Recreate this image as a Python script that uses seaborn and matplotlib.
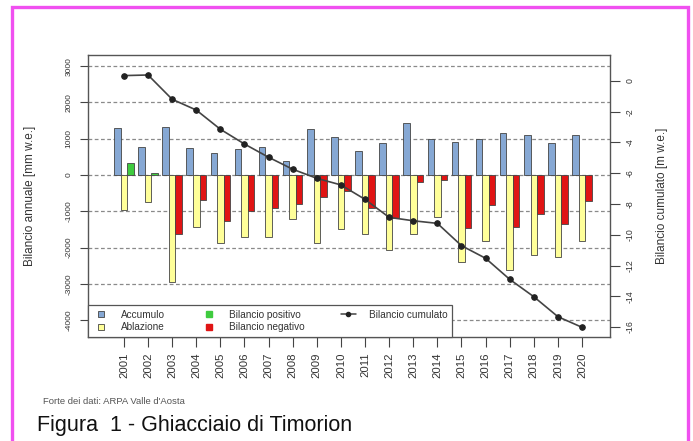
import numpy as np
import pandas as pd
import matplotlib
matplotlib.use("Agg")
import matplotlib.pyplot as plt
from matplotlib.lines import Line2D
from matplotlib.patches import Rectangle
import seaborn as sns

# Data (mm w.e. per year, cumulated in m w.e.)
anni = [str(a) for a in range(2001, 2021)]
accumulo = [1300, 780, 1330, 730, 610, 710, 780, 380, 1260, 1040,
            670, 870, 1420, 990, 900, 980, 1170, 1110, 890, 1090]
ablazione = [-960, -740, -2960, -1440, -1880, -1700, -1700, -1210, -1860, -1500,
             -1620, -2070, -1620, -1150, -2390, -1810, -2610, -2200, -2250, -1815]
bilancio = [340, 45, -1625, -690, -1260, -985, -920, -800, -600, -450,
            -920, -1195, -200, -130, -1470, -826, -1423, -1083, -1358, -705]
cumulato = [0.35, 0.39, -1.19, -1.89, -3.14, -4.10, -4.96, -5.74, -6.33, -6.76,
            -7.70, -8.87, -9.09, -9.26, -10.71, -11.53, -12.90, -14.03, -15.33, -16.02]

serie = ["Accumulo", "Ablazione", "Bilancio"]
df = pd.DataFrame({
    "Anno": anni * 3,
    "Serie": np.repeat(serie, len(anni)),
    "Valore": accumulo + ablazione + bilancio,
})

C_ACC = "#86A8D4"
C_ABL = "#FFFF99"
C_POS = "#3FCB3F"
C_NEG = "#E01414"
EDGE = "#444444"

sns.set_style("ticks")
plt.rcParams['font.family'] = ['Liberation Sans', 'DejaVu Sans']
plt.rcParams['axes.unicode_minus'] = False

fig = plt.figure(figsize=(6.93, 4.41), dpi=100)
ax = fig.add_axes([88 / 693, 1 - 337 / 441, 522 / 693, 282 / 441])

sns.barplot(data=df, x="Anno", y="Valore", hue="Serie", hue_order=serie,
            palette={"Accumulo": C_ACC, "Ablazione": C_ABL, "Bilancio": C_NEG},
            dodge=True, width=0.81, gap=0, saturation=1,
            edgecolor=EDGE, linewidth=0.6, legend=False, ax=ax, zorder=2)

# colour the balance bars by sign
for bar, v in zip(ax.containers[2], bilancio):
    bar.set_facecolor(C_POS if v > 0 else C_NEG)

ax.set_xlim(-1.49, 20.16)
ax.set_ylim(-4463, 3305)
ax.set_yticks(range(-4000, 3001, 1000))
for yv in range(-4000, 3001, 1000):
    ax.axhline(yv, color="#8a8a8a", linestyle=(0, (3, 2)), linewidth=0.9, zorder=1)

ax.tick_params(axis="x", labelsize=8.2, rotation=90, length=7, width=0.8,
               color=EDGE, labelcolor="#333333", pad=4)
ax.tick_params(axis="y", labelsize=6, length=6, width=0.8, color=EDGE,
               labelcolor="#333333", pad=5)
for lab in ax.get_yticklabels():
    lab.set_rotation(90)
    lab.set_va("center")
ax.set_xlabel("")
ax.set_ylabel("Bilancio annuale [mm w.e.]", fontsize=8.5, color="#333333")
ax.yaxis.set_label_coords(-0.10, 0.5)
for sp in ax.spines.values():
    sp.set_visible(True)
    sp.set_color("#555555")
    sp.set_linewidth(1.0)

# cumulated balance on the right axis
ax2 = ax.twinx()
sns.lineplot(x=np.arange(len(anni)), y=cumulato, ax=ax2, color="#444444",
             linewidth=1.2, marker="o", markersize=4, markerfacecolor="#222222",
             markeredgecolor="#222222", zorder=3)
ax2.set_ylim(-16.65, 1.69)
ax2.set_yticks(range(-16, 1, 2))
ax2.tick_params(axis="y", labelsize=6.3, length=7, width=0.8, color=EDGE,
                labelcolor="#333333", pad=4)
for lab in ax2.get_yticklabels():
    lab.set_rotation(90)
    lab.set_va("center")
ax2.set_ylabel("Bilancio cumulato [m w.e.]", fontsize=8.5, color="#333333")
ax2.yaxis.set_label_coords(1.088, 0.5)
for sp in ax2.spines.values():
    sp.set_visible(False)

# legend
handles = [
    Line2D([], [], linestyle="none", marker="s", markersize=5, markerfacecolor=C_ACC, markeredgecolor=EDGE, markeredgewidth=0.6),
    Line2D([], [], linestyle="none", marker="s", markersize=5, markerfacecolor=C_ABL, markeredgecolor=EDGE, markeredgewidth=0.6),
    Line2D([], [], linestyle="none", marker="s", markersize=5, markerfacecolor=C_POS, markeredgecolor=C_POS),
    Line2D([], [], linestyle="none", marker="s", markersize=5, markerfacecolor=C_NEG, markeredgecolor=C_NEG),
    Line2D([], [], color="#444444", linewidth=1.1, marker="o", markersize=3, markerfacecolor="#222222", markeredgecolor="#222222"),
]
labels = ["Accumulo", "Ablazione", "Bilancio positivo", "Bilancio negativo", "Bilancio cumulato"]
leg = ax2.legend(handles, labels, ncol=3, loc="lower left", bbox_to_anchor=(0, 0),
                 borderaxespad=0, fontsize=7.2, frameon=True, fancybox=False,
                 handlelength=1.5, handletextpad=1.3, columnspacing=3.6,
                 labelspacing=0.25, borderpad=0.5, labelcolor="#333333")
leg.get_frame().set_edgecolor("#555555")
leg.get_frame().set_linewidth(0.9)
leg.get_frame().set_facecolor("white")
leg.get_frame().set_alpha(1)

fig.text(43 / 693, 1 - 402 / 441, "Forte dei dati: ARPA Valle d'Aosta", fontsize=6.8,
         color="#555555", va="center", ha="left")
fig.text(37 / 693, 1 - 425 / 441, "Figura  1 - Ghiacciaio di Timorion", fontsize=15.5,
         color="#111111", va="center", ha="left")

# magenta frame around the whole figure
fig.patches.append(Rectangle((11.5 / 693, -0.05), 676 / 693, 1.05 - 6.5 / 441,
                             transform=fig.transFigure, fill=False,
                             edgecolor="#F050F0", linewidth=2.4))

fig.savefig("out.png", dpi=100)
